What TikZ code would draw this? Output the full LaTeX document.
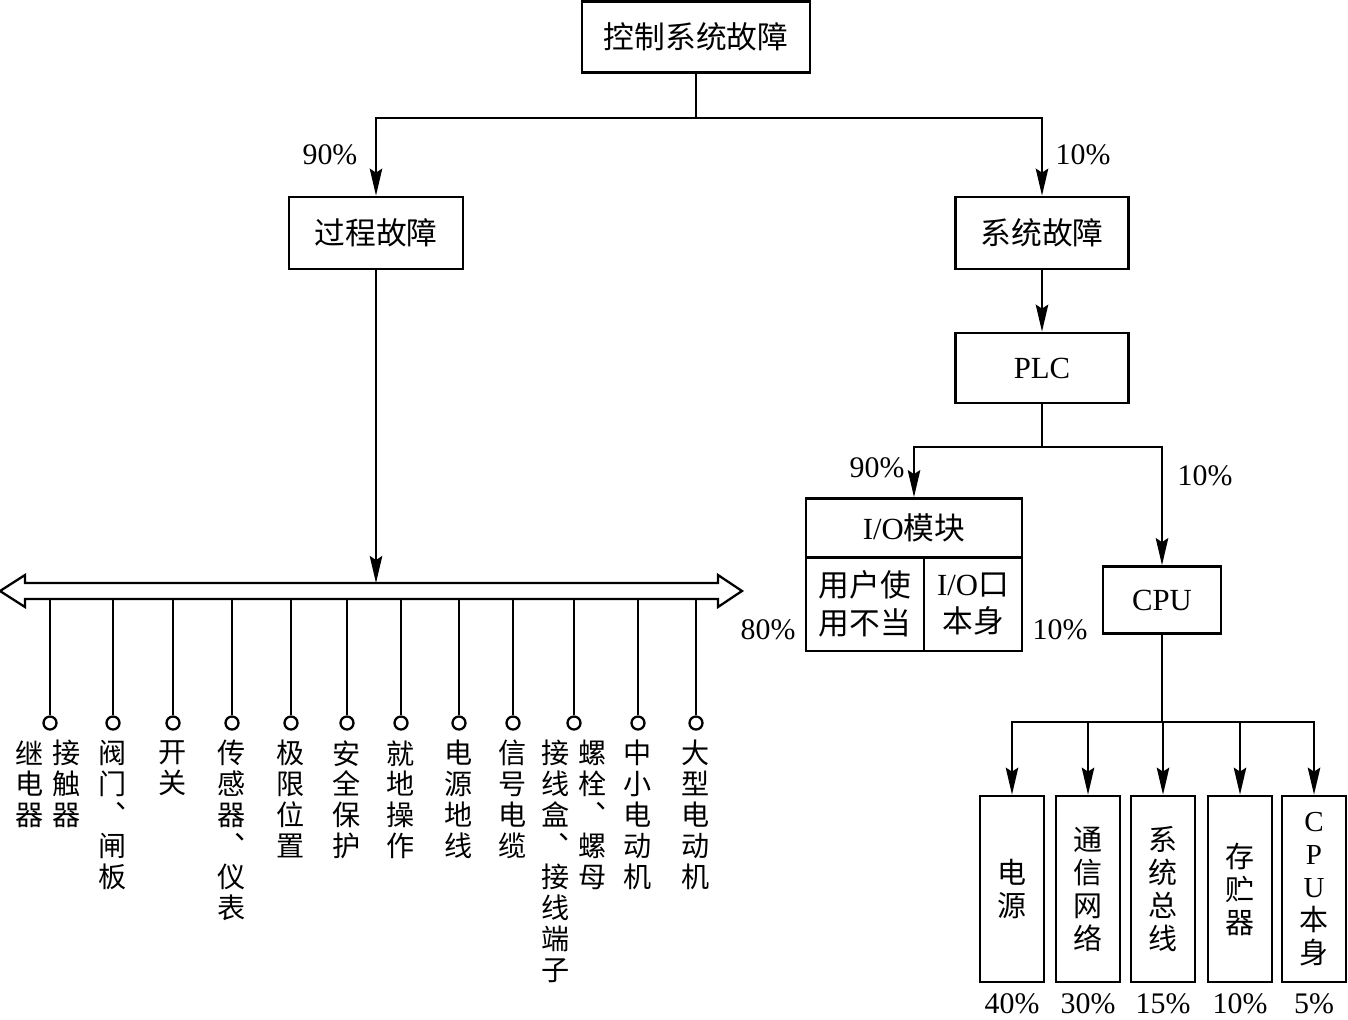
\documentclass[tikz,border=0pt]{standalone}
\usepackage{fontspec}
\setmainfont{Liberation Serif}
\newfontfamily\cjk{Noto Sans CJK SC}
\usetikzlibrary{arrows.meta}

\begin{document}
\begin{tikzpicture}[x=0.02cm, y=-0.02cm,
  >={Stealth[length=5.4mm,width=2.5mm,inset=0.8mm]},
  box/.style={draw, line width=1.6pt, inner sep=0pt, align=center, font=\cjk\fontsize{17.5}{21.5}\selectfont},
  tall/.style={draw, line width=1.6pt, inner sep=0pt, minimum width=1.28cm, minimum height=3.72cm, align=center, font=\cjk\fontsize{16.5}{18.8}\selectfont},
  vlbl/.style={anchor=north, align=center, inner sep=0pt, font=\cjk\fontsize{16}{17.6}\selectfont},
  pct/.style={inner sep=1pt, font=\fontsize{17}{20}\selectfont},
  dot/.style={circle, draw, line width=1.3pt, minimum size=0.26cm, inner sep=0pt, fill=white},
  line/.style={line width=1.1pt}]
\useasboundingbox (0,0) rectangle (1348,1019);

% upper part
\node[box, minimum width=4.56cm, minimum height=1.42cm] (top) at (696,37) {控制系统故障};
\node[box, minimum width=3.48cm, minimum height=1.44cm] (proc) at (376,233) {过程故障};
\node[box, minimum width=3.46cm, minimum height=1.44cm] (sys) at (1042,233) {系统故障};
\node[box, minimum width=3.46cm, minimum height=1.40cm] (plc) at (1042,368) {\rmfamily PLC};
\coordinate (split1) at (696,118);
\draw[line,->] (top.south) -- (split1) -| (proc.north);
\draw[line,->] (split1) -| (sys.north);
\draw[line,->] (sys.south) -- (plc.north);
\node[pct] (p90a) at (330,155) {90\%};
\node[pct] (p10a) at (1083,155) {10\%};

% I/O module and CPU
\node[box, minimum width=4.32cm, minimum height=1.18cm] (io) at (914,528) {{\rmfamily I/O}模块};
\node[box, minimum width=2.36cm, minimum height=1.88cm] (iouser) at (865,604) {用户使\\用不当};
\node[box, minimum width=1.96cm, minimum height=1.88cm] (ioport) at (973,604) {{\rmfamily I/O}口\\本身};
\node[box, minimum width=2.36cm, minimum height=1.34cm] (cpu) at (1162,600) {\rmfamily CPU};
\coordinate (split2) at (1042,447);
\draw[line,->] (plc.south) -- (split2) -| (io.north);
\draw[line,->] (split2) -| (cpu.north);
\node[pct] (p90b) at (877,468) {90\%};
\node[pct] (p10b) at (1205,476) {10\%};
\node[pct] (p80c) at (768,630) {80\%};
\node[pct] (p10c) at (1060,630) {10\%};

% CPU parts
\coordinate (split3) at (1162,722);
\draw[line] (cpu.south) -- (split3);
\foreach \x/\t/\p [count=\i] in {1012/{电\\源}/40, 1088/{通\\信\\网\\络}/30, 1163/{系\\统\\总\\线}/15, 1240/{存\\贮\\器}/10, 1314/{{\rmfamily C}\\{\rmfamily P}\\{\rmfamily U}\\本\\身}/5}
{
	\node[tall] (b\i) at (\x,889) {\t};
	\draw[line,->] (split3) -| (b\i.north);
	\node[pct, inner sep=0pt] (bp\i) at (\x,1004) {\p\%};
}

% process faults: bus with drops
\coordinate (bustop) at (0,583);
\coordinate (busbot) at (0,599);
\draw[line width=1.3pt, line join=miter] (0,591) -- (25,575) -- (25,583) -- (718,583) -- (718,575) -- (742,591)
	-- (718,607) -- (718,599) -- (25,599) -- (25,607) -- cycle;
\draw[line,->] (proc.south) -- (proc.south |- bustop);
\foreach \x [count=\i] in {50,113,173,232,291,347,401,459,513,574,638,696}
{
	\node[dot] (d\i) at (\x,723) {};
	\draw[line] (d\i.north) -- (d\i.north |- busbot);
}
\node[vlbl] (l1a) at (30,740) {继\\电\\器};
\node[vlbl] (l1b) at (67,740) {接\\触\\器};
\node[vlbl] (l2) at (113,740) {阀\\门\\︑\\闸\\板};
\node[vlbl] (l3) at (173,740) {开\\关};
\node[vlbl] (l4) at (232,740) {传\\感\\器\\︑\\仪\\表};
\node[vlbl] (l5) at (291,740) {极\\限\\位\\置};
\node[vlbl] (l6) at (347,740) {安\\全\\保\\护};
\node[vlbl] (l7) at (401,740) {就\\地\\操\\作};
\node[vlbl] (l8) at (459,740) {电\\源\\地\\线};
\node[vlbl] (l9) at (513,740) {信\\号\\电\\缆};
\node[vlbl] (l10a) at (556,740) {接\\线\\盒\\︑\\接\\线\\端\\子};
\node[vlbl] (l10b) at (593,740) {螺\\栓\\︑\\螺\\母};
\node[vlbl] (l11) at (638,740) {中\\小\\电\\动\\机};
\node[vlbl] (l12) at (696,740) {大\\型\\电\\动\\机};
\end{tikzpicture}
\end{document}
